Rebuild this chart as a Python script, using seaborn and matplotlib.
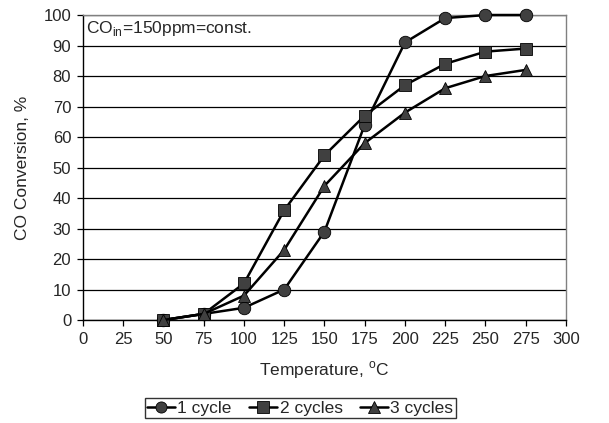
import matplotlib
matplotlib.use("Agg")
import matplotlib.pyplot as plt
import seaborn as sns
import pandas as pd
from matplotlib.lines import Line2D

temperature = [50, 75, 100, 125, 150, 175, 200, 225, 250, 275]
cycle1 = [0, 2, 4, 10, 29, 64, 91, 99, 100, 100]
cycle2 = [0, 2, 12, 36, 54, 67, 77, 84, 88, 89]
cycle3 = [0, 2, 8, 23, 44, 58, 68, 76, 80, 82]
series_names = ["1 cycle", "2 cycles", "3 cycles"]
x_ticks = list(range(0, 301, 25))
y_ticks = list(range(0, 101, 10))

sns.set_style("white")
plt.rcParams['font.family'] = ['Liberation Sans', 'DejaVu Sans']
FS_TICK = 12
FS = 12.5

df = pd.DataFrame({
    "Temperature": temperature * 3,
    "Conversion": cycle1 + cycle2 + cycle3,
    "Series": sum([[n] * len(temperature) for n in series_names], []),
})

fig = plt.figure(figsize=(6.09, 4.23), dpi=100)
ax = fig.add_axes([0.1363, 0.2435, 0.793, 0.721])

markers = {"1 cycle": "o", "2 cycles": "s", "3 cycles": "^"}
palette = {n: "black" for n in series_names}
sns.lineplot(data=df, x="Temperature", y="Conversion", hue="Series", style="Series",
             markers=markers, dashes=False, palette=palette, ax=ax,
             linewidth=1.8, markersize=9, markerfacecolor="#404040",
             markeredgecolor="black", markeredgewidth=0.6, legend=False,
             clip_on=False, zorder=3)

ax.set_xlim(0, 300)
ax.set_ylim(0, 100)
ax.set_xticks(x_ticks)
ax.set_yticks(y_ticks)
ax.yaxis.grid(True, color="black", linewidth=0.9)
ax.xaxis.grid(False)
ax.set_axisbelow(True)
for s in ["left", "bottom"]:
    ax.spines[s].set_color("black")
    ax.spines[s].set_linewidth(1.0)
for s in ["top", "right"]:
    ax.spines[s].set_color("#808080")
    ax.spines[s].set_linewidth(1.0)
ax.tick_params(axis="both", direction="out", length=4.5, width=0.9, color="black",
               labelsize=FS_TICK, left=True, bottom=True, pad=4)
ax.set_xlabel("Temperature, $^{\\mathregular{o}}$C", fontsize=FS, labelpad=9)
ax.set_ylabel("CO Conversion, %", fontsize=FS, labelpad=10)

ax.text(2, 95.5, "CO$_{\\mathregular{in}}$=150ppm=const.", fontsize=FS, va="center", ha="left")

handles = [Line2D([0], [0], color="black", linewidth=1.8, marker=markers[n],
                  markersize=8, markerfacecolor="#404040", markeredgecolor="black",
                  markeredgewidth=0.6) for n in series_names]
leg = fig.legend(handles, series_names, loc="center", bbox_to_anchor=(0.493, 0.035),
                 ncol=3, frameon=True, fancybox=False, fontsize=FS,
                 handlelength=1.6, handletextpad=0.15, columnspacing=1.0,
                 borderpad=0.15, borderaxespad=0, edgecolor="black")
leg.get_frame().set_linewidth(1.0)

fig.savefig("out.png", dpi=100)
